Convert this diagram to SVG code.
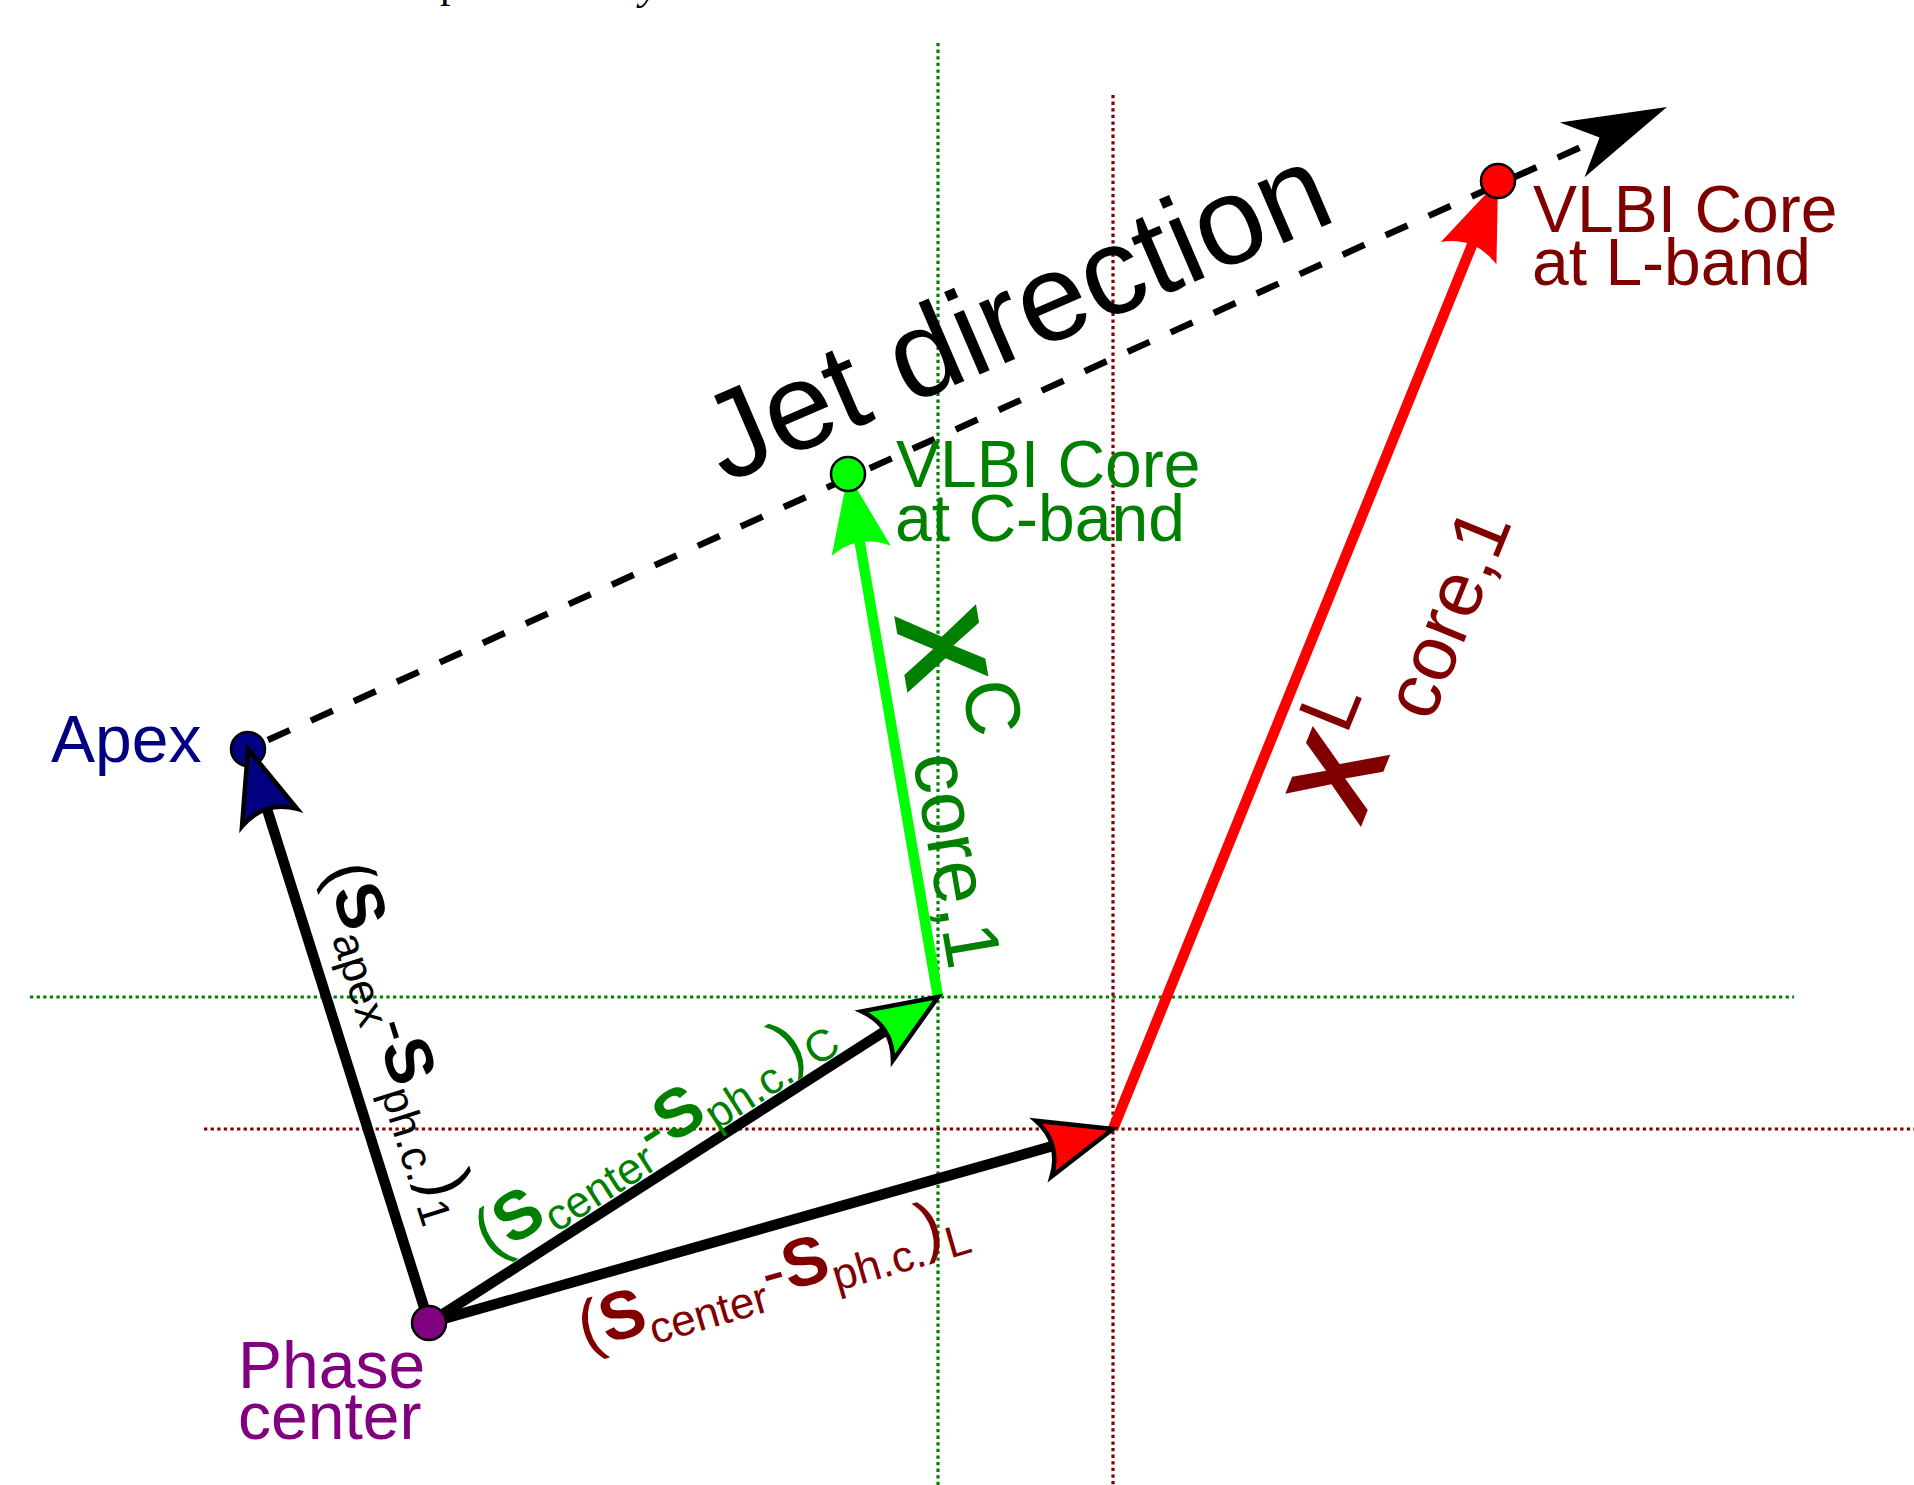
<svg xmlns="http://www.w3.org/2000/svg" width="1914" height="1485" viewBox="0 0 1914 1485">
<style>
text{font-family:"Liberation Sans",Arial,sans-serif}
.dotg{stroke:#008000;stroke-width:3.2;stroke-dasharray:3.3 3.3;fill:none}
.dotr{stroke:#800000;stroke-width:3.2;stroke-dasharray:3.3 3.3;fill:none}
.vec{stroke:#000;stroke-width:10.5;fill:none}
.dot{stroke:#000;stroke-width:2.5}
.ah{stroke:#000;stroke-width:4.5;stroke-linejoin:miter}
.b{font-weight:bold}
</style>
<defs>
<path id="a2" d="M0,0 L-72,-29 C-60,-10 -60,10 -72,29 Z"/>
<path id="a3" d="M0,0 L-78,-30 C-66,-10 -66,10 -78,30 Z"/>
<path id="aj" d="M0,0 L-104,-30 L-74,0 L-104,30 Z"/>
</defs>
<text x="440" y="-3" font-size="42" style="font-family:'Liberation Serif',serif">p</text>
<text x="640" y="-1" font-size="42" font-style="italic" style="font-family:'Liberation Serif',serif">y</text>
<g id="guides">
<line class="dotg" x1="938" y1="43" x2="938" y2="1485"/>
<line class="dotr" x1="1113" y1="95" x2="1113" y2="1485"/>
<line class="dotg" x1="30" y1="997" x2="1794" y2="997"/>
<line class="dotr" x1="204" y1="1129" x2="1914" y2="1129"/>
</g>
<g id="connectors">
<line x1="267.9" y1="740" x2="1599.6" y2="138.7" stroke="#000" stroke-width="6.5" stroke-dasharray="24 23.17"/>
<use href="#aj" transform="translate(1667,107) rotate(-24.3)" fill="#000"/>
<line class="vec" x1="429" y1="1323" x2="266" y2="806"/>
<line class="vec" x1="429" y1="1323" x2="889.2" y2="1028.3"/>
<line class="vec" x1="429" y1="1323" x2="1057.2" y2="1144.8"/>
<line x1="938" y1="997" x2="858.5" y2="535.1" stroke="#00ff00" stroke-width="10.5"/>
<line x1="1113" y1="1129" x2="1474.7" y2="238.4" stroke="#ff0000" stroke-width="10.5"/>
<use href="#a3" transform="translate(848,474) rotate(-99.76)" fill="#00ff00"/>
<use href="#a3" transform="translate(1498,181) rotate(-67.9)" fill="#ff0000"/>
<use href="#a2" class="ah" transform="translate(938,997) rotate(-32.6)" fill="#00ff00"/>
<use href="#a2" class="ah" transform="translate(1113,1129) rotate(-15.8)" fill="#ff0000"/>
</g>
<g id="apex">
<circle class="dot" cx="248" cy="749" r="17" fill="#000080"/>
<use href="#a2" class="ah" transform="translate(248,749) rotate(-107.5)" fill="#000080"/>
<text x="51" y="762" font-size="66" fill="#000080">Apex</text>
</g>
<g id="phase-center">
<circle class="dot" cx="429" cy="1323" r="17" fill="#800080"/>
<text font-size="66" fill="#800080"><tspan x="238" y="1388">Phase</tspan><tspan x="238" y="1439">center</tspan></text>
</g>
<g id="core-c">
<circle class="dot" cx="848" cy="474" r="17" fill="#00ff00"/>
<text font-size="66" fill="#008000"><tspan x="896" y="487">VLBI Core</tspan><tspan x="895" y="541">at C-band</tspan></text>
</g>
<g id="core-l">
<circle class="dot" cx="1498" cy="181" r="17" fill="#ff0000"/>
<text font-size="66" fill="#800000"><tspan x="1533" y="232">VLBI Core</tspan><tspan x="1532" y="285">at L-band</tspan></text>
</g>
<g id="labels">
<text transform="translate(725,484) rotate(-23.3)" font-size="124" fill="#000">Jet direction</text>
<text transform="translate(325,870) rotate(72.5)" font-size="67" fill="#000">(<tspan class="b">S</tspan><tspan font-size="44" dy="14">apex</tspan><tspan dy="-14">-</tspan><tspan class="b">S</tspan><tspan font-size="44" dy="14">ph.c.</tspan><tspan dy="-14">)</tspan><tspan font-size="44" dy="14">1</tspan></text>
<text transform="translate(492,1259) rotate(-32.6)" font-size="68" fill="#008000">(<tspan class="b">S</tspan><tspan font-size="44" dy="13">center</tspan><tspan dy="-13">-</tspan><tspan class="b">S</tspan><tspan font-size="44" dy="13">ph.c.</tspan><tspan dy="-13">)</tspan><tspan font-size="44" dy="13">C</tspan></text>
<text transform="translate(585,1350) rotate(-16.2)" font-size="68" fill="#800000">(<tspan class="b">S</tspan><tspan font-size="44" dy="14">center</tspan><tspan dy="-14">-</tspan><tspan class="b">S</tspan><tspan font-size="44" dy="14">ph.c.</tspan><tspan dy="-14">)</tspan><tspan font-size="44" dy="14">L</tspan></text>
<text transform="translate(894,615) rotate(80.24)" fill="#008000"><tspan class="b" font-size="120">X</tspan><tspan font-size="77" dy="-55">C</tspan><tspan font-size="78" dx="8" dy="61">core,1</tspan></text>
<text transform="translate(1360.5,828) rotate(-67.9)" fill="#800000"><tspan class="b" font-size="120">X</tspan><tspan font-size="78" dy="-47.5">L</tspan><tspan font-size="78" dy="73.5">core,1</tspan></text>
</g>
</svg>
